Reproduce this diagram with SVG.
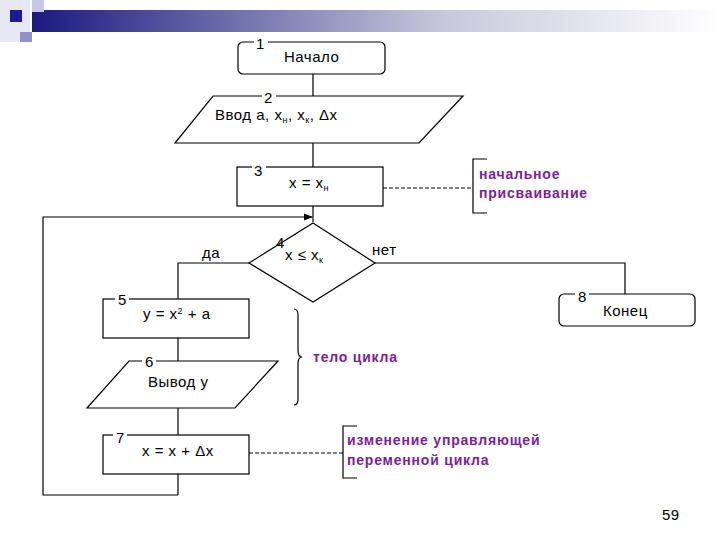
<svg xmlns="http://www.w3.org/2000/svg" width="720" height="540" viewBox="0 0 720 540">
<style>
.s{fill:#fff;stroke:#000;stroke-width:1.2}
.l{fill:none;stroke:#000;stroke-width:1.2}
.d{fill:none;stroke:#000;stroke-width:1;stroke-dasharray:4 2}
.t{font-family:"Liberation Sans",Arial,sans-serif;font-size:15px;fill:#000;letter-spacing:0.5px}
.n{font-family:"Liberation Sans",Arial,sans-serif;font-size:15px;fill:#000}
.p{font-family:"Liberation Sans",Arial,sans-serif;font-size:14px;font-weight:bold;fill:#7a1fa0;letter-spacing:0.8px}
.sub{font-size:9px}
</style>
<defs>
<linearGradient id="g" x1="0" x2="1"><stop offset="0" stop-color="#1a1a80"/><stop offset="0.6" stop-color="#c8c8dc"/><stop offset="1" stop-color="#fff"/></linearGradient>
<marker id="a" markerWidth="8" markerHeight="8" refX="7" refY="4" orient="auto"><path d="M0,1 L8,4 L0,7z" fill="#000"/></marker>
</defs>
<rect width="720" height="540" fill="#fff"/>
<g id="header">
<rect x="0" y="0" width="30" height="42" fill="#e8e8f4"/>
<rect x="32" y="10" width="688" height="22" fill="url(#g)"/>
<rect x="10" y="10" width="12" height="12" fill="#1a1a9a"/>
<rect x="32" y="0" width="12" height="12" fill="#c8c8e4"/>
<rect x="20" y="32" width="12" height="10" fill="#9090c8"/>
</g>
<g id="connectors">
<path class="l" d="M313,74 V96 M313,143 V167"/>
<path class="l" d="M313,206 V222"/>
<path class="l" d="M178,495 H43 V217 H312" marker-end="url(#a)"/>
<path class="l" d="M249,263 H178 V299"/>
<path class="l" d="M178,338 V361 M178,408 V435 M178,474 V495"/>
<path class="l" d="M375,263 H625 V294"/>
<path class="d" d="M383,188 H473"/>
<path class="d" d="M249,453 H343"/>
<path class="l" d="M487,159 H473 V213 H487"/>
<path class="l" d="M357,426 H343 V478 H357"/>
<path class="l" d="M294,309 Q298,309 298,315 V350 Q298,357 302,357 Q298,357 298,364 V399 Q298,405 294,405"/>
</g>
<g id="n1"><rect class="s" x="238" y="42" width="147" height="32" rx="5"/><rect x="254" y="38" width="14" height="8" fill="#fff"/><text class="n" x="256" y="49">1</text><text class="t" x="284" y="62">Начало</text></g>
<g id="n2"><polygon class="s" points="213,96 463,96 419,143 175,143"/><rect x="262" y="92" width="14" height="8" fill="#fff"/><text class="n" x="264" y="103">2</text><text class="t" x="215" y="120">Ввод а, х<tspan class="sub" dy="3">н</tspan><tspan dy="-3">, х</tspan><tspan class="sub" dy="3">к</tspan><tspan dy="-3">, Δх</tspan></text></g>
<g id="n3"><rect class="s" x="237" y="167" width="146" height="39"/><rect x="252" y="163" width="14" height="8" fill="#fff"/><text class="n" x="254" y="176">3</text><text class="t" x="289" y="188">х = х<tspan class="sub" dy="3">н</tspan></text></g>
<g id="n4"><polygon class="s" points="313,223 375,263 313,302 249,263"/><text class="n" x="276" y="248">4</text><text class="t" x="285" y="260">х ≤ х<tspan class="sub" dy="3">к</tspan></text></g>
<g id="n5"><rect class="s" x="103" y="299" width="146" height="39"/><rect x="115" y="295" width="14" height="8" fill="#fff"/><text class="n" x="118" y="305">5</text><text class="t" x="143" y="319">у = х<tspan class="sub" dy="-5">2</tspan><tspan dy="5"> + а</tspan></text></g>
<g id="n6"><polygon class="s" points="129,361 278,361 235,408 87,408"/><rect x="142" y="357" width="14" height="8" fill="#fff"/><text class="n" x="145" y="367">6</text><text class="t" x="148" y="387">Вывод у</text></g>
<g id="n7"><rect class="s" x="103" y="435" width="146" height="39"/><rect x="113" y="431" width="14" height="8" fill="#fff"/><text class="n" x="116" y="443">7</text><text class="t" x="142" y="456">х = х + Δх</text></g>
<g id="n8"><rect class="s" x="559" y="294" width="136" height="32" rx="5"/><rect x="575" y="290" width="14" height="8" fill="#fff"/><text class="n" x="578" y="302">8</text><text class="t" x="603" y="316">Конец</text></g>
<g id="labels">
<text class="t" x="202" y="258">да</text>
<text class="t" x="372" y="255">нет</text>
<text class="p" x="479" y="179">начальное</text>
<text class="p" x="479" y="198">присваивание</text>
<text class="p" x="313" y="362">тело цикла</text>
<text class="p" x="347" y="445">изменение управляющей</text>
<text class="p" x="347" y="465">переменной цикла</text>
<text class="t" x="662" y="520" font-size="12">59</text>
</g>
</svg>
